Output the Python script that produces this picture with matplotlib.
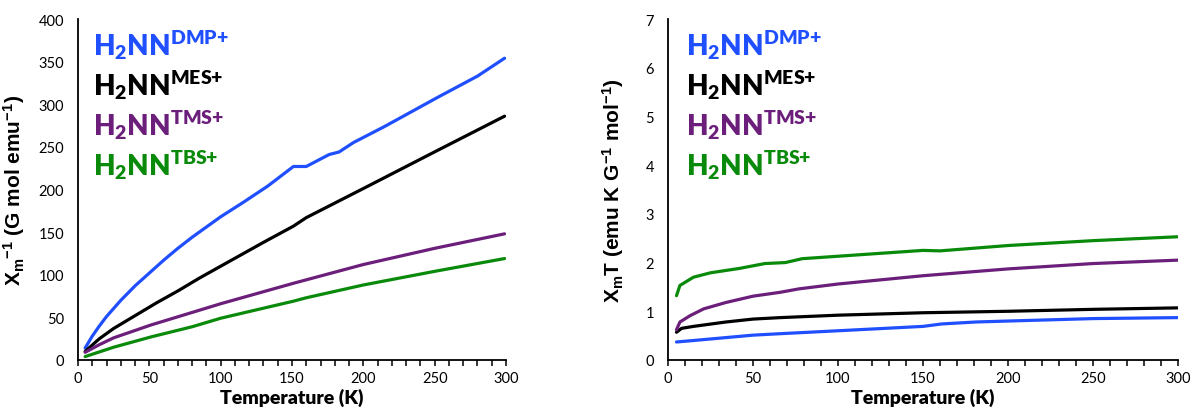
import matplotlib
matplotlib.use("Agg")
import matplotlib.pyplot as plt
from matplotlib.ticker import MultipleLocator

plt.rcParams['font.family'] = ['Lato', 'DejaVu Sans']
plt.rcParams['mathtext.default'] = 'regular'
plt.rcParams['axes.unicode_minus'] = False

# ---- Left panel: inverse susceptibility (G mol emu^-1) ----
T_dmp_inv = [5, 10, 15, 20, 30, 40, 50, 60, 70, 80, 90, 100, 115, 133, 151, 160, 176, 183, 193, 215, 252, 280, 299]
dmp_inv = [14, 28, 40, 51, 70, 87, 102, 117, 131, 144, 156, 168, 184, 204, 227, 227, 241, 244, 255, 274, 308, 333, 354]

T_mes_inv = [5, 15, 25, 40, 55, 70, 85, 100, 130, 151, 160, 201, 251, 299]
mes_inv = [10, 25, 37, 52, 67, 81, 96, 110, 138, 157, 167, 202, 245, 286]

T_tms_inv = [5, 15, 25, 51, 100, 151, 200, 250, 299]
tms_inv = [9, 18, 26, 41, 66, 90, 112, 131, 148]

T_tbs_inv = [5, 25, 51, 80, 100, 151, 160, 200, 250, 299]
tbs_inv = [4, 15, 27, 39, 49, 69, 73, 88, 104, 119]

# ---- Right panel: chi_m * T (emu K G^-1 mol^-1) ----
T_dmp_t = [5, 15, 50, 66, 100, 150, 161, 181, 200, 250, 300]
dmp_t = [0.37, 0.40, 0.51, 0.54, 0.60, 0.69, 0.74, 0.78, 0.80, 0.85, 0.87]

T_mes_t = [5, 8, 15, 34, 50, 66, 100, 150, 200, 250, 300]
mes_t = [0.57, 0.65, 0.69, 0.78, 0.84, 0.87, 0.92, 0.97, 1.00, 1.04, 1.07]

T_tms_t = [5, 7, 13, 21, 34, 50, 66, 77, 100, 150, 200, 250, 300]
tms_t = [0.62, 0.78, 0.91, 1.05, 1.18, 1.31, 1.39, 1.46, 1.56, 1.73, 1.87, 1.98, 2.05]

T_tbs_t = [5, 7, 15, 25, 42, 57, 69, 79, 100, 150, 160, 200, 250, 300]
tbs_t = [1.32, 1.53, 1.70, 1.79, 1.88, 1.98, 2.00, 2.08, 2.13, 2.25, 2.24, 2.35, 2.45, 2.53]

labels = [r"H$_{2}$NN$^{DMP{+}}$", r"H$_{2}$NN$^{MES{+}}$", r"H$_{2}$NN$^{TMS{+}}$", r"H$_{2}$NN$^{TBS{+}}$"]
colors = ["#1f4fff", "#000000", "#6b1f7b", "#0a8a0a"]

fig = plt.figure(figsize=(11.9, 4.14), dpi=100)
axL = fig.add_axes([78/1190, 1-361/414, (506-78)/1190, (361-20)/414])
axR = fig.add_axes([668/1190, 1-361/414, (1178-668)/1190, (361-20)/414])

left_series = [(T_dmp_inv, dmp_inv), (T_mes_inv, mes_inv), (T_tms_inv, tms_inv), (T_tbs_inv, tbs_inv)]
right_series = [(T_dmp_t, dmp_t), (T_mes_t, mes_t), (T_tms_t, tms_t), (T_tbs_t, tbs_t)]

for (x, y), c in zip(left_series, colors):
    axL.plot(x, y, color=c, lw=2.3, solid_capstyle='round', solid_joinstyle='round')
for (x, y), c in zip(right_series, colors):
    axR.plot(x, y, color=c, lw=2.3, solid_capstyle='round', solid_joinstyle='round')

axL.set_ylim(0, 400)
axL.yaxis.set_major_locator(MultipleLocator(50))
axR.set_ylim(0, 7)
axR.yaxis.set_major_locator(MultipleLocator(1))

for ax in (axL, axR):
    ax.set_xlim(0, 300)
    ax.xaxis.set_major_locator(MultipleLocator(50))
    ax.xaxis.set_minor_locator(MultipleLocator(10))
    for s in ('top', 'right'):
        ax.spines[s].set_visible(False)
    for s in ('left', 'bottom'):
        ax.spines[s].set_linewidth(1.3)
    ax.tick_params(axis='x', which='both', direction='out', length=4, width=1.1, labelsize=10.5, pad=4)
    ax.tick_params(axis='y', which='both', length=0, labelsize=10.5, pad=10)
    ax.set_xlabel("Temperature (K)", fontsize=14, fontweight='heavy', labelpad=2)
    for i, (lab, c) in enumerate(zip(labels, colors)):
        ax.text(0.035, 0.975 - i*0.117, lab, transform=ax.transAxes, color=c,
                fontsize=20, fontweight='heavy', va='top', ha='left')

for ax, lab, pad in ((axL, r"X$_{m}$$^{-1}$ (G mol emu$^{-1}$)", 8),
                     (axR, r"X$_{m}$T (emu K G$^{-1}$ mol$^{-1}$)", 14)):
    t = ax.set_ylabel(lab, labelpad=pad)
    t.set_fontfamily(['Liberation Sans', 'DejaVu Sans'])
    t.set_fontsize(15)
    t.set_fontweight('bold')

fig.savefig("out.png", dpi=100)
